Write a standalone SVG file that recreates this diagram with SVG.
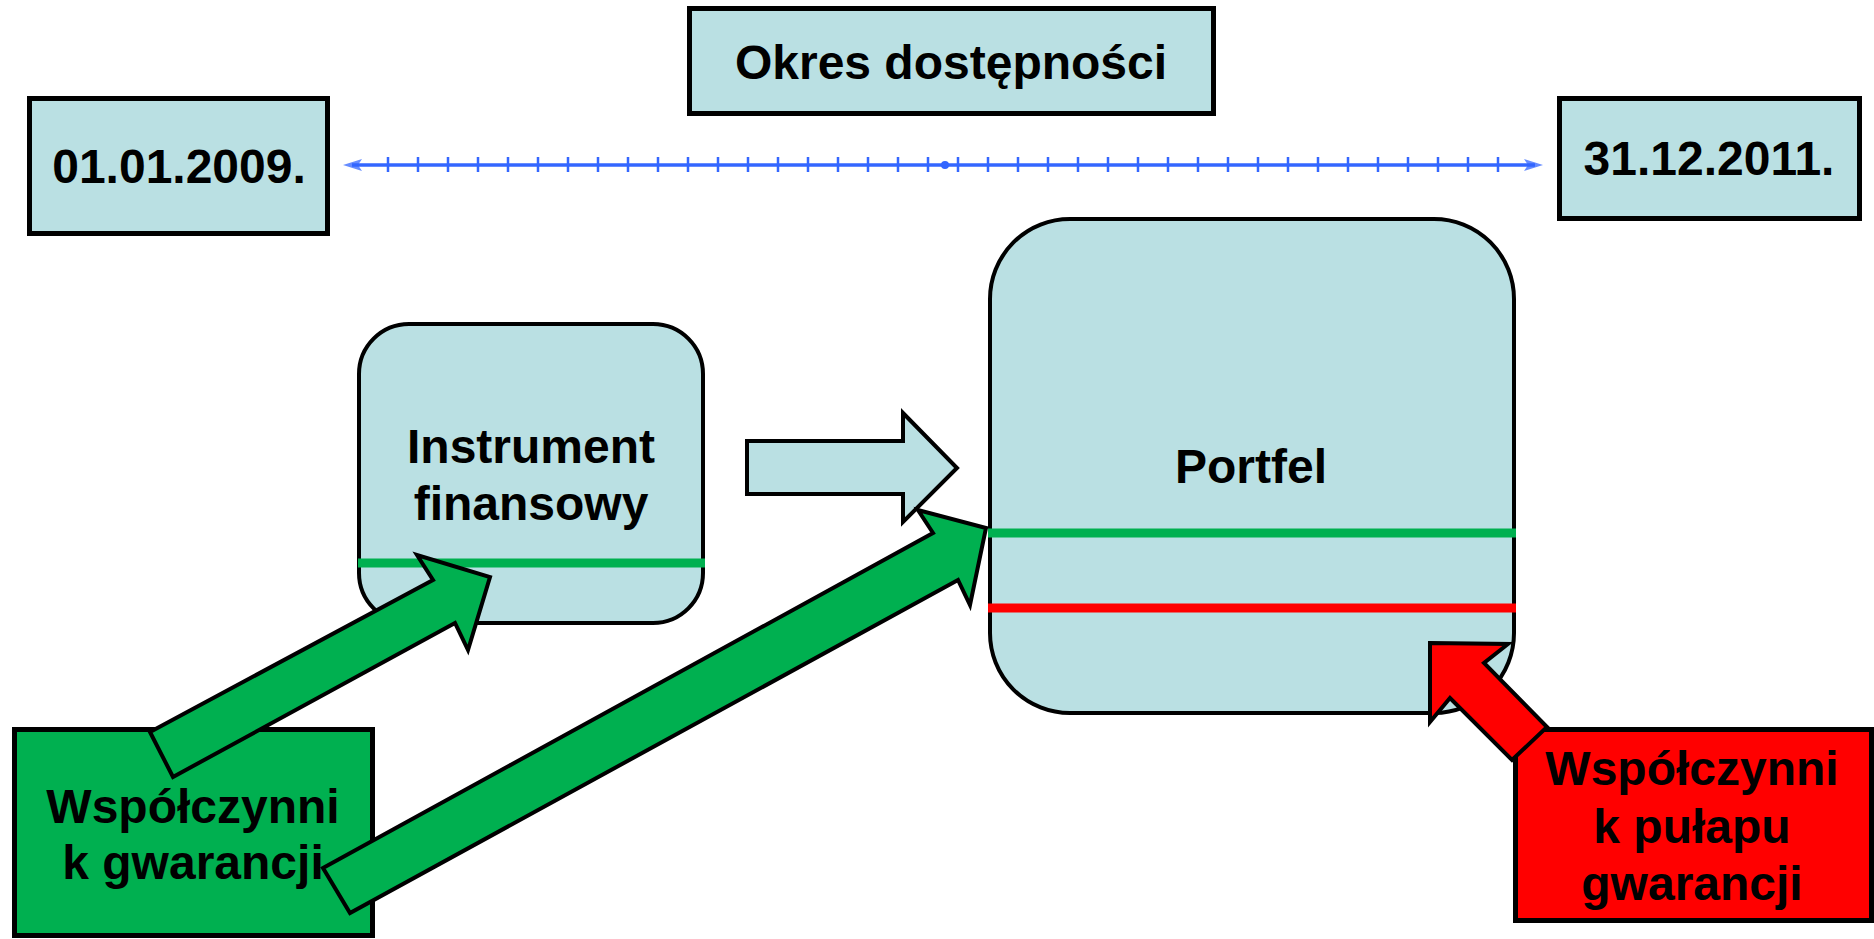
<svg xmlns="http://www.w3.org/2000/svg" width="1874" height="939" viewBox="0 0 1874 939">
<defs>
<style>
.box{fill:#BAE0E3;stroke:#000;stroke-width:5}
.rbox{fill:#BAE0E3;stroke:#000;stroke-width:4}
.t{font-family:"Liberation Sans",Arial,sans-serif;font-weight:bold;font-size:48px;fill:#000;text-anchor:middle}
.arr{stroke:#000;stroke-width:4;stroke-linejoin:miter}
.tl{stroke:#3366FF;fill:none}
</style>
</defs>
<rect width="1874" height="939" fill="#fff"/>
<g id="okres">
<rect class="box" x="689.5" y="8.5" width="524" height="105"/>
<text class="t" x="951" y="79">Okres dostępności</text>
</g>
<g id="start">
<rect class="box" x="29.5" y="98.5" width="298" height="135"/>
<text class="t" x="179" y="183">01.01.2009.</text>
</g>
<g id="end">
<rect class="box" x="1559.5" y="98.5" width="300" height="120"/>
<text class="t" x="1709" y="175">31.12.2011.</text>
</g>
<g id="instrument">
<rect class="rbox" x="359" y="324" width="344" height="299" rx="50" ry="50"/>
<line x1="358" y1="563" x2="705" y2="563" stroke="#00B050" stroke-width="9"/>
<text class="t" x="531" y="463">Instrument</text>
<text class="t" x="531" y="520">finansowy</text>
</g>
<g id="portfel">
<rect class="rbox" x="990" y="219" width="524" height="494" rx="80" ry="80"/>
<line x1="988" y1="533" x2="1516" y2="533" stroke="#00B050" stroke-width="9"/>
<line x1="988" y1="608" x2="1516" y2="608" stroke="#FF0000" stroke-width="9"/>
<text class="t" x="1251" y="483">Portfel</text>
</g>
<g id="wsp-gwarancji">
<rect x="14.5" y="729.5" width="358" height="206" fill="#00B050" stroke="#000" stroke-width="5"/>
<text class="t" x="193" y="823">Współczynni</text>
<text class="t" x="193" y="879">k gwarancji</text>
</g>
<g id="wsp-pulapu">
<rect x="1515.5" y="729.5" width="356" height="191" fill="#FF0000" stroke="#000" stroke-width="5"/>
<text class="t" x="1692" y="785">Współczynni</text>
<text class="t" x="1692" y="843">k pułapu</text>
<text class="t" x="1692" y="900">gwarancji</text>
</g>
<g id="connectors">
<g id="timeline">
<line class="tl" x1="352" y1="165" x2="1535" y2="165" stroke-width="3.5"/>
<path class="tl" stroke-width="2.5" d="M388 157v15M418 157v15M448 157v15M478 157v15M508 157v15M538 157v15M568 157v15M598 157v15M628 157v15M658 157v15M688 157v15M718 157v15M748 157v15M778 157v15M808 157v15M838 157v15M868 157v15M898 157v15M928 157v15M958 157v15M988 157v15M1018 157v15M1048 157v15M1078 157v15M1108 157v15M1138 157v15M1168 157v15M1198 157v15M1228 157v15M1258 157v15M1288 157v15M1318 157v15M1348 157v15M1378 157v15M1408 157v15M1438 157v15M1468 157v15M1498 157v15"/>
<circle cx="945" cy="165" r="4" fill="#3366FF"/>
<polygon points="343,165 362,159 358,165 362,171" fill="#3366FF" opacity="0.75"/>
<polygon points="1543,165 1524,159 1528,165 1524,171" fill="#3366FF" opacity="0.75"/>
</g>
<polygon id="arrow-instr-portfel" class="arr" fill="#BAE0E3" points="747,441 903,441 903,413 957,468 903,522 903,494 747,494"/>
<polygon id="arrow-gw-instr" class="arr" fill="#00B050" points="150,732 433,580 417,555 490,577 468,650 455,623 173,777"/>
<polygon id="arrow-gw-portfel" class="arr" fill="#00B050" points="323,868 933,533 918,510 986,528 970,605 958,580 350,913"/>
<polygon id="arrow-pulap-portfel" class="arr" fill="#FF0000" points="1430,643 1508,644 1484,663 1547,727 1512,760 1450,698 1430,722"/>
</g>
</svg>
